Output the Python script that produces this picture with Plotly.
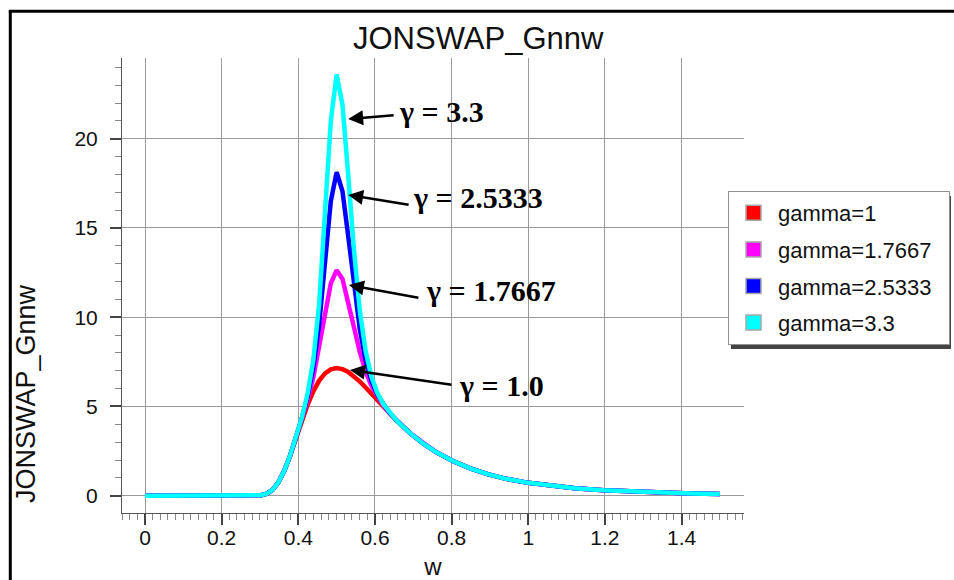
import plotly.graph_objects as go

# Angular frequency samples
w = [0.0, 0.0909, 0.1818, 0.2727, 0.2879, 0.3030, 0.3182, 0.3333, 0.3485, 0.3636,
     0.3788, 0.3939, 0.4091, 0.4242, 0.4394, 0.4545, 0.4697, 0.4848, 0.5000, 0.5152,
     0.5303, 0.5455, 0.5606, 0.5758, 0.5909, 0.6061, 0.6212, 0.6364, 0.6515, 0.6667,
     0.6818, 0.6970, 0.7273, 0.7576, 0.8030, 0.8485, 0.8939, 0.9394, 1.0000, 1.0606,
     1.1212, 1.1970, 1.2727, 1.3485, 1.4242, 1.5000]

# Spectral density for each peak-enhancement factor
s_gamma_1 = [0, 0, 0, 0, 0.005, 0.03, 0.12, 0.34, 0.76, 1.41,
             2.25, 3.21, 4.18, 5.09, 5.86, 6.45, 6.85, 7.08, 7.15, 7.09,
             6.93, 6.68, 6.39, 6.06, 5.70, 5.35, 4.99, 4.64, 4.31, 3.99,
             3.69, 3.41, 2.90, 2.47, 1.94, 1.53, 1.21, 0.96, 0.72, 0.55,
             0.42, 0.31, 0.23, 0.17, 0.13, 0.10]

s_gamma_17667 = [0, 0, 0, 0, 0.005, 0.03, 0.12, 0.34, 0.76, 1.41,
                 2.25, 3.23, 4.27, 5.38, 6.65, 8.24, 10.14, 11.89, 12.63, 12.14,
                 10.90, 9.41, 8.04, 6.95, 6.14, 5.54, 5.07, 4.67, 4.32, 3.99,
                 3.69, 3.41, 2.90, 2.47, 1.94, 1.53, 1.21, 0.96, 0.72, 0.55,
                 0.42, 0.31, 0.23, 0.17, 0.13, 0.10]

s_gamma_25333 = [0, 0, 0, 0, 0.005, 0.03, 0.12, 0.34, 0.76, 1.41,
                 2.25, 3.24, 4.32, 5.56, 7.21, 9.62, 12.98, 16.51, 18.12, 17.06,
                 14.53, 11.68, 9.30, 7.59, 6.44, 5.66, 5.12, 4.69, 4.32, 3.99,
                 3.69, 3.41, 2.90, 2.47, 1.94, 1.53, 1.21, 0.96, 0.72, 0.55,
                 0.42, 0.31, 0.23, 0.17, 0.13, 0.10]

s_gamma_33 = [0, 0, 0, 0, 0.005, 0.03, 0.12, 0.34, 0.76, 1.41,
              2.26, 3.25, 4.36, 5.71, 7.65, 10.78, 15.57, 21.00, 23.60, 21.91,
              17.94, 13.69, 10.34, 8.09, 6.66, 5.76, 5.15, 4.70, 4.33, 3.99,
              3.69, 3.41, 2.90, 2.47, 1.94, 1.53, 1.21, 0.96, 0.72, 0.55,
              0.42, 0.31, 0.23, 0.17, 0.13, 0.10]

series_names = ["gamma=1", "gamma=1.7667", "gamma=2.5333", "gamma=3.3"]
series_values = [s_gamma_1, s_gamma_17667, s_gamma_25333, s_gamma_33]
series_colors = ["#ff0000", "#ff00ff", "#0000ff", "#00ffff"]

# Callout labels: text, arrow tip (w, S), arrow tail offset in px, text left/middle (w, S)
callout_text = ["γ = 3.3", "γ = 2.5333", "γ = 1.7667", "γ = 1.0"]
callout_tip = [(0.530, 21.1), (0.530, 16.85), (0.532, 11.80), (0.535, 7.04)]
callout_tail = [(47, -4), (62, 10), (71, 13), (103, 15)]
callout_pos = [(0.658, 21.55), (0.694, 16.73), (0.728, 11.47), (0.815, 6.15)]

SANS = "Liberation Sans, Arial, sans-serif"
SERIF = "Liberation Serif, Times New Roman, serif"

# plot-area geometry in pixels (left, right, top, bottom)
PL, PR, PT, PB = 122, 744, 58, 513


def px_x(px):
    return (px - PL) / (PR - PL)


def px_y(py):
    return (PB - py) / (PB - PT)


fig = go.Figure()

for name, vals, col in zip(series_names, series_values, series_colors):
    fig.add_trace(go.Scatter(
        x=w, y=vals, mode="lines", name=name, legendgroup=name,
        showlegend=False, line=dict(color=col, width=4.5),
    ))

# square legend swatches
for name, col in zip(series_names, series_colors):
    fig.add_trace(go.Scatter(
        x=[None], y=[None], mode="markers", name=name + "\u00a0\u00a0", legendgroup=name,
        marker=dict(symbol="square", size=15, color=col,
                    line=dict(color="#a8a8a8", width=1.5)),
    ))

annotations = []
for txt, tip, tail, pos in zip(callout_text, callout_tip, callout_tail, callout_pos):
    annotations.append(dict(
        x=tip[0], y=tip[1], xref="x", yref="y", ax=tail[0], ay=tail[1],
        text="", showarrow=True, arrowhead=2, arrowsize=1.2, arrowwidth=2.5,
        arrowcolor="black",
    ))
    annotations.append(dict(
        x=pos[0], y=pos[1], xref="x", yref="y", text="<b>%s</b>" % txt,
        showarrow=False, xanchor="left", yanchor="middle",
        font=dict(family=SERIF, size=30, color="black"),
    ))

# y-axis label
annotations.append(dict(
    x=px_x(26), y=px_y(393), xref="paper", yref="paper", text="JONSWAP_Gnnw",
    textangle=-90, showarrow=False, xanchor="center", yanchor="middle",
    font=dict(family=SANS, size=27, color="#111"),
))

shapes = [
    # outer frame: left and top edges
    dict(type="line", xref="paper", yref="paper",
         x0=px_x(10.3), x1=px_x(10.3), y0=px_y(11.3), y1=px_y(582),
         line=dict(color="black", width=3), layer="above"),
    dict(type="line", xref="paper", yref="paper",
         x0=px_x(8.8), x1=px_x(956), y0=px_y(11.3), y1=px_y(11.3),
         line=dict(color="black", width=3), layer="above"),
    # legend drop shadow
    dict(type="rect", xref="paper", yref="paper",
         x0=px_x(731), x1=px_x(951), y0=px_y(349), y1=px_y(196),
         line=dict(width=0), fillcolor="#444", layer="above"),
]

axis_font = dict(family=SANS, size=21, color="#111")

fig.update_layout(
    width=954, height=580,
    margin=dict(l=PL, r=954 - PR, t=PT, b=580 - PB, autoexpand=False),
    paper_bgcolor="white", plot_bgcolor="white",
    title=dict(text="JONSWAP_Gnnw", x=353 / 954, xanchor="left", xref="container",
               y=1 - 38 / 580, yanchor="middle", yref="container",
               font=dict(family=SANS, size=31, color="#111")),
    xaxis=dict(
        range=[-0.0600, 1.5628], dtick=0.2, tick0=0,
        showline=True, linecolor="#555", linewidth=1, mirror=False,
        ticks="outside", ticklen=11, tickwidth=1.5, tickcolor="#444",
        showgrid=True, gridcolor="#9a9a9a", gridwidth=1, zeroline=False,
        tickfont=axis_font, ticklabelstandoff=-5,
        minor=dict(dtick=0.02, tick0=0, ticklen=6, tickcolor="#888", tickwidth=1,
                   ticks="outside", showgrid=False),
        title=dict(text="w", font=dict(family=SANS, size=24, color="#111"), standoff=11),
    ),
    yaxis=dict(
        range=[-0.9692, 24.5210], dtick=5, tick0=0,
        showline=True, linecolor="#555", linewidth=1, mirror=False,
        ticks="outside", ticklen=11, tickwidth=1.5, tickcolor="#444",
        showgrid=True, gridcolor="#9a9a9a", gridwidth=1, zeroline=False,
        tickfont=axis_font, ticklabelstandoff=8,
        minor=dict(dtick=1, tick0=0, ticklen=6, tickcolor="#888", tickwidth=1,
                   ticks="outside", showgrid=False),
    ),
    legend=dict(
        x=px_x(728), y=px_y(191), xanchor="left", yanchor="top",
        bgcolor="white", bordercolor="#909090", borderwidth=1,
        font=dict(family=SANS, size=22, color="#111"),
        itemsizing="trace", traceorder="grouped", tracegroupgap=5, itemwidth=39,
    ),
    annotations=annotations,
    shapes=shapes,
    showlegend=True,
)

fig.write_html("out.html")
